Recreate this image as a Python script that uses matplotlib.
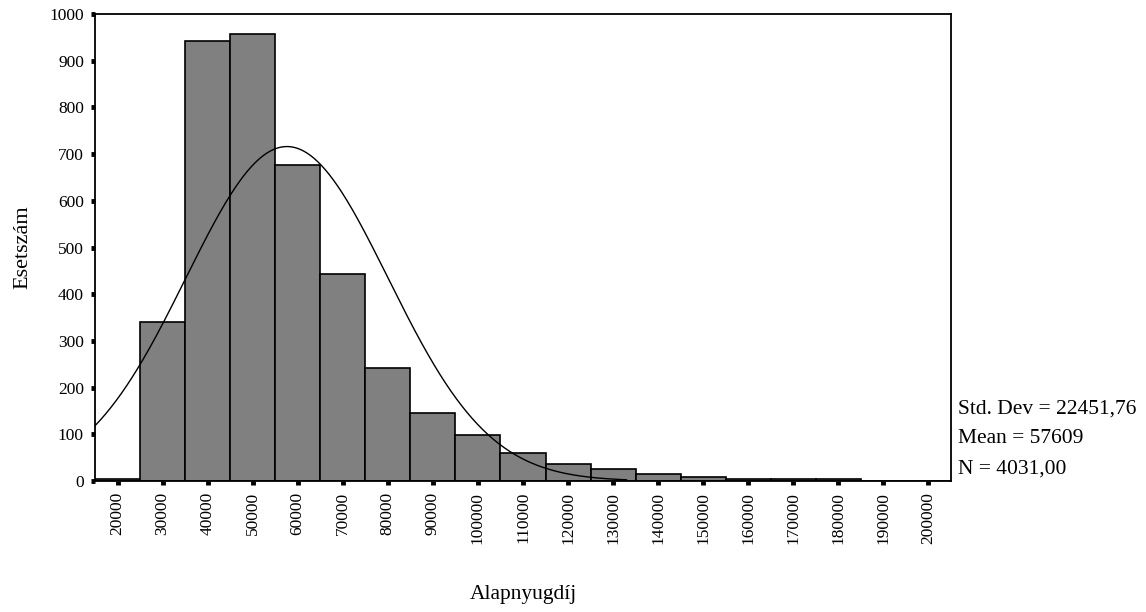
import numpy as np
import matplotlib.pyplot as plt

plt.rcParams['font.family'] = ['Liberation Serif', 'DejaVu Serif']

# bin centres (Alapnyugdíj) and counts
bins = [20000, 30000, 40000, 50000, 60000, 70000, 80000, 90000, 100000, 110000,
        120000, 130000, 140000, 150000, 160000, 170000, 180000, 190000, 200000]
counts = [5, 341, 942, 957, 676, 444, 242, 146, 99, 60,
          36, 26, 14, 8, 4, 4, 4, 0, 0]
yticks = [0, 100, 200, 300, 400, 500, 600, 700, 800, 900, 1000]

std_dev = 22451.76
mean = 57609
n = 4031
width = 10000

fig = plt.figure(figsize=(11.46, 6.12), dpi=100)
ax = fig.add_axes([0.0829, 0.2141, 0.7469, 0.7629])

ax.bar(bins, counts, width=width, color='#808080', edgecolor='black', linewidth=1.2, zorder=2)

# normal curve scaled to counts
x = np.linspace(15000, 133000, 400)
y = n * width / (std_dev * np.sqrt(2 * np.pi)) * np.exp(-0.5 * ((x - mean) / std_dev) ** 2)
ax.plot(x, y, color='black', linewidth=1.0, zorder=3)

ax.set_xlim(15000, 205000)
ax.set_ylim(0, 1000)
ax.set_xticks(bins)
ax.set_xticklabels([str(b) for b in bins], rotation=90, fontsize=12.5)
ax.set_yticks(yticks)
ax.set_yticklabels([str(t) for t in yticks], fontsize=12.5)
ax.tick_params(axis='both', direction='out', length=3, width=3.5, pad=5)
for s in ax.spines.values():
    s.set_linewidth(1.3)

ax.set_ylabel('Esetszám', fontsize=16, labelpad=12)
fig.text(0.4564, 0.028, 'Alapnyugdíj', fontsize=15.5, ha='center', va='center')

fig.text(0.836, 0.3317, 'Std. Dev = 22451,76', fontsize=15.5, va='center')
fig.text(0.836, 0.2843, 'Mean = 57609', fontsize=15.5, va='center')
fig.text(0.836, 0.2337, 'N = 4031,00', fontsize=15.5, va='center')

fig.savefig('out.png', dpi=100)
